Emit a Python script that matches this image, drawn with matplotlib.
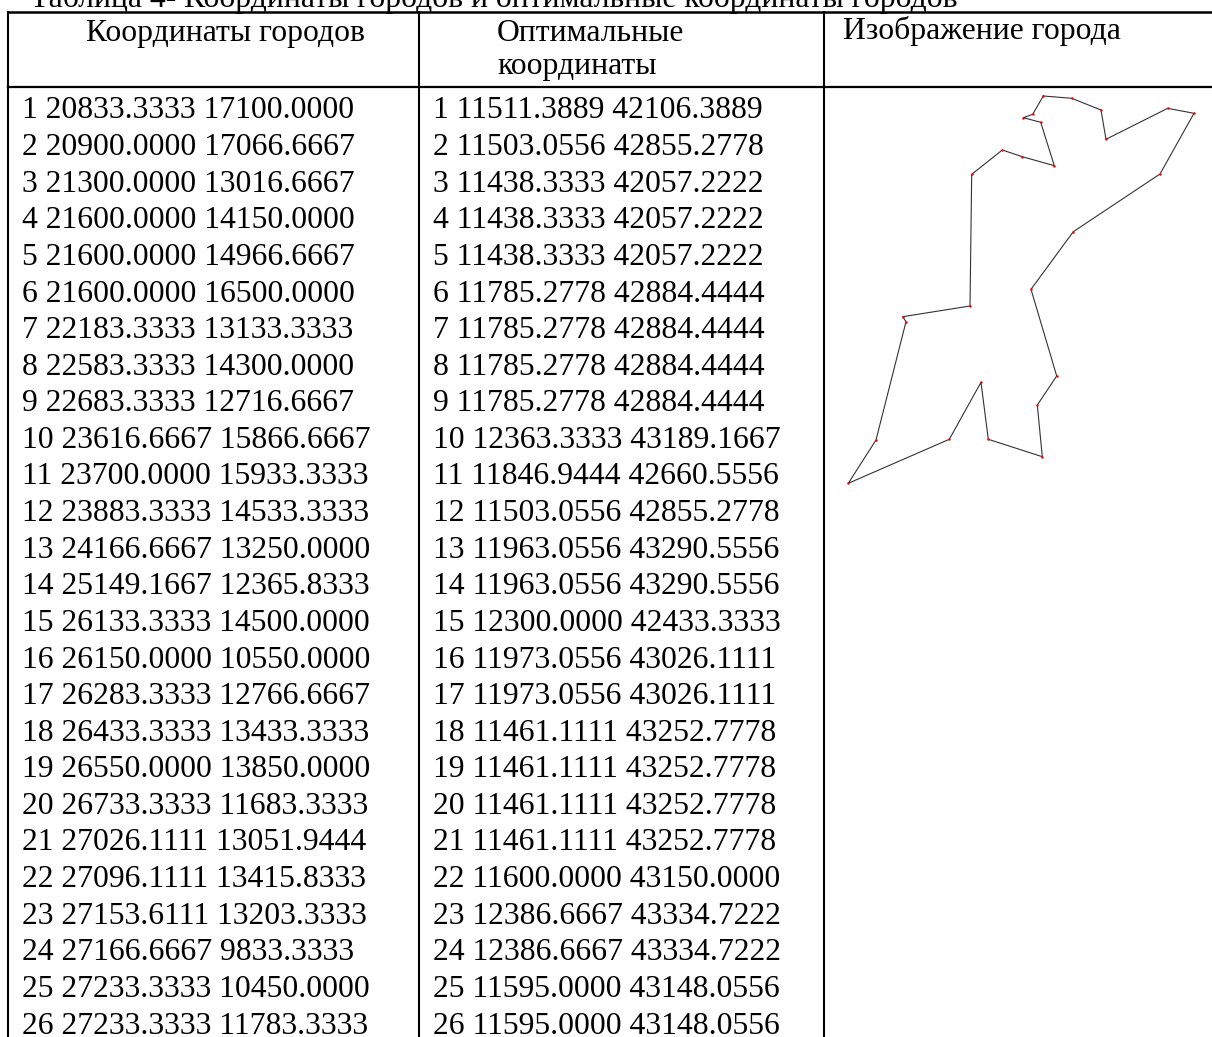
import matplotlib.pyplot as plt

# Координаты городов (столбец 1)
city_x = [20833.3333, 20900.0000, 21300.0000, 21600.0000, 21600.0000, 21600.0000,
          22183.3333, 22583.3333, 22683.3333, 23616.6667, 23700.0000, 23883.3333,
          24166.6667, 25149.1667, 26133.3333, 26150.0000, 26283.3333, 26433.3333,
          26550.0000, 26733.3333, 27026.1111, 27096.1111, 27153.6111, 27166.6667,
          27233.3333, 27233.3333]
city_y = [17100.0000, 17066.6667, 13016.6667, 14150.0000, 14966.6667, 16500.0000,
          13133.3333, 14300.0000, 12716.6667, 15866.6667, 15933.3333, 14533.3333,
          13250.0000, 12365.8333, 14500.0000, 10550.0000, 12766.6667, 13433.3333,
          13850.0000, 11683.3333, 13051.9444, 13415.8333, 13203.3333, 9833.3333,
          10450.0000, 11783.3333]

# Оптимальные координаты (столбец 2)
opt_x = [11511.3889, 11503.0556, 11438.3333, 11438.3333, 11438.3333, 11785.2778,
         11785.2778, 11785.2778, 11785.2778, 12363.3333, 11846.9444, 11503.0556,
         11963.0556, 11963.0556, 12300.0000, 11973.0556, 11973.0556, 11461.1111,
         11461.1111, 11461.1111, 11461.1111, 11600.0000, 12386.6667, 12386.6667,
         11595.0000, 11595.0000]
opt_y = [42106.3889, 42855.2778, 42057.2222, 42057.2222, 42057.2222, 42884.4444,
         42884.4444, 42884.4444, 42884.4444, 43189.1667, 42660.5556, 42855.2778,
         43290.5556, 43290.5556, 42433.3333, 43026.1111, 43026.1111, 43252.7778,
         43252.7778, 43252.7778, 43252.7778, 43150.0000, 43334.7222, 43334.7222,
         43148.0556, 43148.0556]

# Контур маршрута (пиксели)
tour_x = [1043.3, 1071.7, 1101.0, 1106.0, 1167.7, 1194.0, 1160.0, 1073.3, 1031.0,
          1056.7, 1037.3, 1042.3, 988.3, 981.0, 949.3, 848.3, 876.0, 906.0, 902.7,
          970.0, 971.7, 1002.3, 1022.3, 1054.3, 1040.7, 1023.3, 1032.7]
tour_y = [96.0, 98.3, 110.0, 139.3, 108.3, 113.3, 174.0, 231.7, 289.3,
          376.0, 405.0, 456.7, 439.3, 382.3, 439.3, 483.3, 440.0, 321.7, 316.7,
          306.0, 174.3, 150.0, 156.7, 165.7, 122.3, 117.7, 114.3]

headers = ["Координаты городов", "Оптимальные\nкоординаты", "Изображение города"]
title = "Таблица 4- Координаты городов и оптимальные координаты городов"

plt.rcParams['font.family'] = ['Liberation Serif', 'DejaVu Serif']

fig = plt.figure(figsize=(12.12, 10.37), dpi=100)
ax = fig.add_axes([0, 0, 1, 1])
ax.set_xlim(0, 1212)
ax.set_ylim(1037, 0)
ax.axis('off')

fs = 22.8

# заголовок таблицы (обрезан сверху)
ax.text(30, 7, title, fontsize=fs, va='baseline', ha='left')

# линии таблицы
ax.plot([8, 1212], [12, 12], color='black', lw=1.8)
ax.plot([8, 1212], [87, 87], color='black', lw=1.6)
for xv in [8, 419, 824]:
    ax.plot([xv, xv], [12, 1037], color='black', lw=1.5)

# шапка
ax.text(86, 34, headers[0], fontsize=fs, va='center', ha='left')
ax.text(497, 50, headers[1], fontsize=fs, va='center', ha='left', linespacing=1.15)
ax.text(843, 31, headers[2], fontsize=fs, va='center', ha='left')

# строки
for i in range(len(city_x)):
    y = 111 + i * 36.6
    ax.text(22, y, f"{i + 1} {city_x[i]:.4f} {city_y[i]:.4f}",
            fontsize=fs, va='center', ha='left')
    ax.text(433, y, f"{i + 1} {opt_x[i]:.4f} {opt_y[i]:.4f}",
            fontsize=fs, va='center', ha='left')

# изображение маршрута
ax.plot(tour_x + tour_x[:1], tour_y + tour_y[:1], color='#333333', lw=0.8)
ax.plot(tour_x, tour_y, 'o', color='red', ms=1.8, mew=0)

fig.savefig("out.png", dpi=100)
